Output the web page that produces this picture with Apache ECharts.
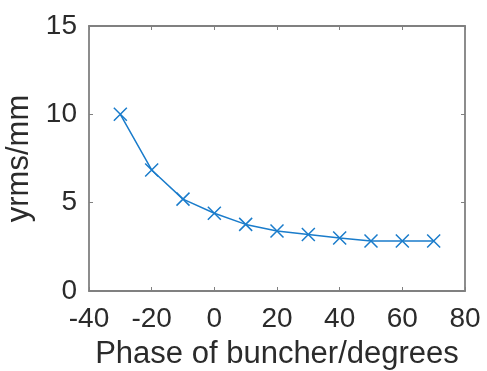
<!DOCTYPE html>
<html>
<head>
<meta charset="utf-8">
<script src="https://cdn.jsdelivr.net/npm/echarts@6/dist/echarts.min.js"></script>
<style>
  html, body { margin: 0; padding: 0; background: #fff; }
  #chart { width: 487px; height: 371px; }
</style>
</head>
<body>
<div id="chart"></div>
<script>
// Buncher phase (degrees) and resulting rms beam size (mm)
const phaseDeg = [-30, -20, -10, 0, 10, 20, 30, 40, 50, 60, 70];
const yrmsMm = [10.0, 6.85, 5.2, 4.4, 3.77, 3.4, 3.2, 3.0, 2.83, 2.83, 2.83];

const xTicks = { min: -40, max: 80, interval: 20 };
const yTicks = { min: 0, max: 15, interval: 5 };

const lineColor = '#1a7ccb';
const axisGray = '#808080';
const textColor = '#2b2b2b';
const fontFamily = 'Liberation Sans, Arial, sans-serif';

const chart = echarts.init(document.getElementById('chart'), null, { renderer: 'canvas' });

const axisCommon = {
  axisLine: { show: true, onZero: false, lineStyle: { color: axisGray, width: 1.8 } },
  axisTick: { show: true, inside: true, length: 4, lineStyle: { color: axisGray, width: 1 } },
  splitLine: { show: false },
};

chart.setOption({
  animation: false,
  grid: { left: 89, right: 22, top: 26, bottom: 80, containLabel: false, outerBoundsMode: 'none' },
  xAxis: [
    Object.assign({
      type: 'value', position: 'bottom',
      min: xTicks.min, max: xTicks.max, interval: xTicks.interval,
      name: 'Phase of buncher/degrees',
      nameLocation: 'middle', nameGap: 48,
      nameTextStyle: { color: textColor, fontSize: 31, fontFamily },
      axisLabel: { color: textColor, fontSize: 28, fontFamily, margin: 14 },
    }, axisCommon),
    Object.assign({
      type: 'value', position: 'top',
      min: xTicks.min, max: xTicks.max, interval: xTicks.interval,
      axisLabel: { show: false },
    }, axisCommon),
  ],
  yAxis: [
    Object.assign({
      type: 'value', position: 'left',
      min: yTicks.min, max: yTicks.max, interval: yTicks.interval,
      name: 'yrms/mm',
      nameLocation: 'middle', nameGap: 43, nameRotate: 90,
      nameTextStyle: { color: textColor, fontSize: 31, fontFamily },
      axisLabel: { color: textColor, fontSize: 28, fontFamily, margin: 12 },
    }, axisCommon),
    Object.assign({
      type: 'value', position: 'right',
      min: yTicks.min, max: yTicks.max, interval: yTicks.interval,
      axisLabel: { show: false },
    }, axisCommon),
  ],
  series: [{
    type: 'line',
    xAxisIndex: 0,
    yAxisIndex: 0,
    data: phaseDeg.map((p, i) => [p, yrmsMm[i]]),
    lineStyle: { color: lineColor, width: 1.5 },
    symbol: 'path://M0,0L10,10M10,0L0,10',
    symbolSize: 13,
    showSymbol: true,
    itemStyle: { color: 'rgba(0,0,0,0)', borderColor: lineColor, borderWidth: 1.5 },
  }],
});
</script>
</body>
</html>
